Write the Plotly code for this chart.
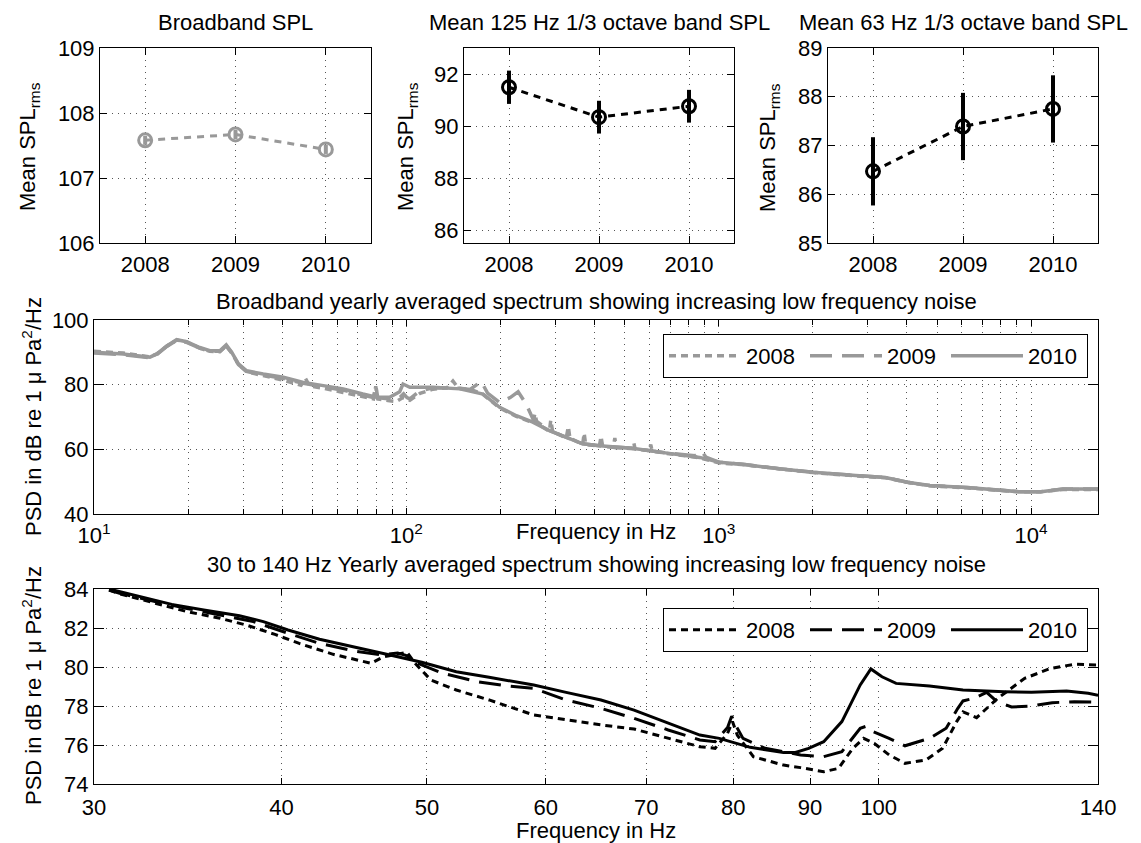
import plotly.graph_objects as go

W, H = 1141, 843
FONT = "Liberation Sans, Arial, Helvetica, sans-serif"
FS = 22
GRAY = "#999999"

# ---------------- data ----------------
years = [2008, 2009, 2010]
year_names = ["2008", "2009", "2010"]

broadband_spl = [107.58, 107.67, 107.44]
broadband_err = [0.07, 0.07, 0.07]
band125_spl = [91.49, 90.34, 90.76]
band125_err = [0.64, 0.63, 0.63]
band63_spl = [86.47, 87.39, 87.75]
band63_err = [0.70, 0.69, 0.69]

# Broadband yearly averaged spectrum (Hz, dB)
bb_f_2008 = [10, 12.4, 15.1, 15.9, 17.1, 18.4, 19.8, 21.8, 23.5, 25.3, 26.5, 27.6, 29.0, 30.8,
             34.8, 40.4, 46.0, 47.5, 49.0, 54.2, 62.8, 72.6, 78.5, 79.8, 81.0, 88.4, 93.0, 97.5,
             102.6, 110.6, 121.7, 135, 141, 147, 160, 176, 199, 225, 254, 258, 262, 287, 290, 294,
             325, 330, 334, 367, 371, 375, 415, 420, 425, 460, 465, 470, 529, 535, 540, 600, 606,
             612, 675, 869, 1006, 1211, 1591, 2006, 2748, 3418, 4020, 4742, 6234, 8197, 9142,
             10760, 12670, 16384]
bb_v_2008 = [90.3, 89.8, 88.6, 89.5, 91.9, 93.8, 93.2, 91.3, 90.3, 90.2, 92.0, 89.8, 86.2, 84.0,
             82.8, 81.4, 79.8, 82.0, 79.6, 78.9, 77.6, 76.4, 75.6, 79.5, 75.6, 75.0, 74.8, 76.0,
             75.2, 77.3, 78.6, 79.0, 81.1, 78.8, 78.6, 77.0, 72.8, 70.2, 68.2, 71.0, 68.0, 65.6,
             69.0, 65.5, 63.5, 67.0, 63.4, 61.6, 65.0, 61.5, 61.0, 64.0, 61.0, 60.6, 63.5, 60.5,
             60.2, 62.0, 60.1, 59.6, 61.5, 59.5, 58.8, 57.4, 55.8, 55.2, 53.8, 52.8, 51.8, 51.2,
             49.8, 48.7, 48.1, 47.3, 46.9, 46.9, 47.6, 47.6]

bb_f_2009 = [10, 12.4, 15.1, 15.9, 17.1, 18.4, 19.8, 21.8, 23.5, 25.3, 26.5, 27.6, 29.0, 30.8,
             34.8, 40.4, 46.8, 54.2, 62.8, 72.6, 78.5, 79.8, 81.0, 88.4, 95.2, 98.0, 100.5, 102.6,
             110.6, 121.7, 148.4, 160, 173.6, 182, 190, 199, 215, 228, 242, 254, 287, 325, 367,
             415, 529, 675, 840, 880, 910, 1006, 1211, 1591, 2006, 2748, 3418, 4020, 4742, 6234,
             8197, 9142, 10760, 12670, 16384]
bb_v_2009 = [89.8, 89.3, 88.3, 89.3, 91.8, 93.7, 93.1, 91.3, 90.3, 90.3, 92.0, 89.8, 86.2, 84.1,
             83.0, 81.9, 80.4, 79.3, 78.3, 76.8, 76.0, 79.8, 76.0, 75.6, 76.0, 77.2, 76.0, 75.6,
             78.1, 79.0, 78.9, 78.5, 81.0, 77.4, 76.0, 74.5, 76.0, 77.8, 74.0, 69.5, 65.8, 63.7,
             61.7, 61.1, 60.3, 58.9, 58.0, 59.5, 57.6, 56.0, 55.3, 53.9, 52.9, 51.9, 51.3, 49.8,
             48.8, 48.2, 47.4, 46.9, 46.9, 47.7, 47.7]

bb_f_2010 = [10, 12.4, 15.1, 15.9, 17.1, 18.4, 19.8, 21.8, 23.5, 25.3, 26.5, 27.6, 29.0, 30.8,
             34.8, 40.4, 46.8, 54.2, 62.8, 72.6, 80.3, 88.4, 95.2, 97.6, 102.6, 121.7, 148.4, 176,
             199, 225, 254, 287, 325, 367, 415, 529, 675, 869, 1006, 1211, 1591, 2006, 2748, 3418,
             4020, 4742, 6234, 8197, 9142, 10760, 12670, 16384]
bb_v_2010 = [90.0, 89.5, 88.5, 89.5, 92.0, 93.9, 93.3, 91.5, 90.5, 90.5, 92.3, 90.0, 86.4, 84.3,
             83.3, 82.3, 80.7, 79.7, 78.7, 77.1, 76.1, 76.1, 77.8, 80.2, 79.2, 79.2, 78.7, 77.1,
             73.0, 70.4, 68.4, 65.8, 63.7, 61.7, 61.1, 60.3, 58.9, 57.5, 56.0, 55.3, 53.9, 52.9,
             51.9, 51.3, 49.8, 48.8, 48.2, 47.4, 46.9, 46.9, 47.7, 47.7]

# 30 to 140 Hz yearly averaged spectrum (Hz, dB)
lf_f_2008 = [30.7, 31.2, 33.0, 34.6, 36.4, 37.9, 39.6, 41.1, 43.3, 45.9, 46.8, 48.5, 49.1, 50.3,
             52.3, 55.0, 58.9, 61.9, 65.3, 68.7, 72.4, 76.0, 77.8, 79.3, 79.9, 80.5, 82.5, 86.4,
             88.7, 91.9, 94.0, 96.1, 97.7, 99.3, 101.6, 104.1, 107.5, 110.3, 112.7, 113.8, 116.2,
             120.0, 125.1, 130.2, 135.0, 140.0]
lf_v_2008 = [83.95, 83.75, 83.26, 82.84, 82.5, 82.15, 81.67, 81.21, 80.65, 80.19, 80.53, 80.75,
             80.19, 79.33, 78.82, 78.31, 77.54, 77.28, 77.03, 76.82, 76.34, 75.91, 75.83, 76.6,
             77.2, 76.5, 75.4, 74.97, 74.84, 74.63, 74.8, 75.83, 76.34, 76.09, 75.49, 75.06, 75.23,
             75.83, 77.2, 77.7, 77.4, 78.39, 79.42, 79.93, 80.14, 80.1]

lf_f_2009 = [30.7, 31.2, 33.0, 34.6, 36.4, 38.3, 40.4, 42.4, 44.7, 46.6, 47.8, 48.4, 49.1, 51.2,
             54.0, 56.5, 58.9, 61.9, 65.3, 68.7, 72.4, 76.0, 77.8, 79.3, 79.8, 80.3, 81.2, 84.0,
             88.7, 91.9, 94.5, 97.2, 98.0, 99.0, 101.6, 104.1, 108.1, 110.9, 112.9, 113.8, 115.8,
             118.0, 119.8, 122.6, 126.2, 130.5, 135.0, 140.0]
lf_v_2009 = [83.95, 83.78, 83.35, 83.0, 82.67, 82.33, 81.73, 81.21, 80.82, 80.62, 80.72, 80.6,
             80.24, 79.68, 79.25, 79.03, 78.9, 78.31, 77.88, 77.37, 76.77, 76.26, 76.17, 76.9,
             77.48, 77.0, 76.34, 75.83, 75.49, 75.4, 75.66, 76.86, 76.95, 76.7, 76.34, 75.96,
             76.34, 76.86, 77.88, 78.26, 78.4, 78.7, 78.25, 77.95, 78.0, 78.17, 78.22, 78.2]

lf_f_2010 = [30.7, 32.2, 33.8, 35.5, 37.5, 38.9, 40.4, 42.4, 44.7, 47.0, 49.6, 52.3, 55.0, 58.9,
             61.9, 65.3, 68.7, 72.4, 76.0, 78.3, 82.1, 86.4, 88.0, 89.8, 91.9, 94.5, 97.2, 98.8,
             100.5, 102.7, 108.1, 113.8, 117.4, 121.2, 126.4, 133.4, 137.9, 140.0]
lf_v_2010 = [84.0, 83.6, 83.21, 82.92, 82.63, 82.33, 81.9, 81.42, 81.04, 80.65, 80.24, 79.76,
             79.47, 79.08, 78.7, 78.31, 77.79, 77.11, 76.51, 76.34, 75.88, 75.61, 75.62, 75.83,
             76.17, 77.2, 79.08, 79.9, 79.5, 79.16, 79.03, 78.82, 78.77, 78.73, 78.7, 78.77,
             78.65, 78.55]

# tick values
top_yticks = [[106, 107, 108, 109], [86, 88, 90, 92], [85, 86, 87, 88, 89]]
bb_major = [10, 100, 1000, 10000]
bb_major_text = ["10<sup>1</sup>", "10<sup>2</sup>", "10<sup>3</sup>", "10<sup>4</sup>"]
bb_minor = [20, 30, 40, 50, 60, 70, 80, 90,
            200, 300, 400, 500, 600, 700, 800, 900,
            2000, 3000, 4000, 5000, 6000, 7000, 8000, 9000]
bb_yticks = [40, 60, 80, 100]
lf_xticks = [30, 40, 50, 60, 70, 80, 90, 100, 140]
lf_yticks = [74, 76, 78, 80, 82, 84]

# ---------------- figure ----------------
def px_x(p):
    return p / W

def px_y(p):
    return 1 - p / H

fig = go.Figure()

dash_styles = ["7px,5px", "22px,10px", "solid"]

top_sets = [
    (broadband_spl, broadband_err, GRAY, "x", "y"),
    (band125_spl, band125_err, "black", "x2", "y2"),
    (band63_spl, band63_err, "black", "x3", "y3"),
]
for vals, errs, col, xa, ya in top_sets:
    fig.add_trace(go.Scatter(
        x=years, y=vals, xaxis=xa, yaxis=ya, mode="lines+markers",
        line=dict(color=col, width=3, dash="7px,6px"),
        marker=dict(symbol="circle-open", size=13, color=col, line=dict(width=3, color=col)),
        error_y=dict(type="data", array=errs, color=col, thickness=4, width=0),
        showlegend=False,
    ))

bb_sets = [(bb_f_2008, bb_v_2008), (bb_f_2009, bb_v_2009), (bb_f_2010, bb_v_2010)]
for (fx, vy), name, dsh in zip(bb_sets, year_names, dash_styles):
    fig.add_trace(go.Scatter(
        x=fx, y=vy, xaxis="x4", yaxis="y4", mode="lines", name=name,
        line=dict(color=GRAY, width=3.5, dash=dsh), legend="legend",
    ))

lf_sets = [(lf_f_2008, lf_v_2008), (lf_f_2009, lf_v_2009), (lf_f_2010, lf_v_2010)]
for (fx, vy), name, dsh in zip(lf_sets, year_names, dash_styles):
    fig.add_trace(go.Scatter(
        x=fx, y=vy, xaxis="x5", yaxis="y5", mode="lines", name=name,
        line=dict(color="black", width=3, dash=dsh), legend="legend2",
    ))

tickfont = dict(family=FONT, size=FS, color="black")
GRIDC = "#555555"
GRIDDASH = "1px,5px"

def axis_common(**kw):
    d = dict(showline=True, linecolor="black", linewidth=1, mirror="ticks", ticks="inside",
             tickcolor="black", tickfont=tickfont, zeroline=False, automargin=False,
             showgrid=True, gridcolor=GRIDC, griddash=GRIDDASH, gridwidth=1)
    d.update(kw)
    return d

top_x = [(100, 371), (464, 734), (828, 1098)]
top_y = (48, 243)

layout = dict(
    template="none",
    width=W, height=H, margin=dict(l=0, r=0, t=0, b=0, pad=0, autoexpand=False),
    autosize=False, paper_bgcolor="white", plot_bgcolor="white",
    font=dict(family=FONT, size=FS, color="black"),
)

top_ranges = [(106, 109), (85.5, 93), (85, 89)]
for i, ((x0, x1), (r0, r1), tv) in enumerate(zip(top_x, top_ranges, top_yticks)):
    sfx = "" if i == 0 else str(i + 1)
    layout["xaxis" + sfx] = axis_common(
        domain=[px_x(x0), px_x(x1)], range=[2007.5, 2010.5], tickvals=years,
        ticklen=7, anchor="y" + sfx, ticklabelstandoff=2)
    layout["yaxis" + sfx] = axis_common(
        domain=[px_y(top_y[1]), px_y(top_y[0])], range=[r0, r1], tickvals=tv,
        ticklen=7, anchor="x" + sfx)

layout["xaxis4"] = axis_common(
    domain=[px_x(94), px_x(1098)], type="log", range=[1, 4.2144],
    tickvals=bb_major, ticktext=bb_major_text, ticklen=6, anchor="y4",
    ticklabelstandoff=2,
    minor=dict(tickvals=bb_minor, ticks="inside", ticklen=5, tickcolor="black",
               showgrid=True, gridcolor=GRIDC, griddash=GRIDDASH, gridwidth=1))
layout["yaxis4"] = axis_common(
    domain=[px_y(514), px_y(320)], range=[40, 100], tickvals=bb_yticks,
    ticklen=10, anchor="x4")

layout["xaxis5"] = axis_common(
    domain=[px_x(94), px_x(1098)], type="log", range=[1.4771, 2.1461],
    tickvals=lf_xticks, ticktext=[str(v) for v in lf_xticks], ticklen=6, anchor="y5",
    ticklabelstandoff=4)
layout["yaxis5"] = axis_common(
    domain=[px_y(784), px_y(589)], range=[74, 84], tickvals=lf_yticks,
    ticklen=10, anchor="x5")

legend_common = dict(orientation="h", xanchor="right", yanchor="top", bgcolor="white",
                     bordercolor="black", borderwidth=1, font=dict(family=FONT, size=FS),
                     itemwidth=72, entrywidth=54, tracegroupgap=0)
layout["legend"] = dict(x=px_x(1088), y=px_y(334), **legend_common)
layout["legend2"] = dict(x=px_x(1088), y=px_y(608), **legend_common)

fig.update_layout(**layout)

def ann(text, x, y, angle=0, size=FS):
    fig.add_annotation(text=text, xref="paper", yref="paper", x=px_x(x), y=px_y(y),
                       xanchor="center", yanchor="middle", showarrow=False, textangle=angle,
                       font=dict(family=FONT, size=size, color="black"))

ann("Broadband SPL", 236, 22)
ann("Mean 125 Hz 1/3 octave band SPL", 599, 22)
ann("Mean 63 Hz 1/3 octave band SPL", 963, 22)
ann("Mean SPL<sub>rms</sub>", 29, 147, -90)
ann("Mean SPL<sub>rms</sub>", 407, 147, -90)
ann("Mean SPL<sub>rms</sub>", 769, 147, -90)
ann("Broadband yearly averaged spectrum showing increasing low frequency noise", 596, 302)
ann("Frequency in Hz", 596, 531)
ann("PSD in dB re 1 \u03bc Pa<sup>2</sup>/Hz", 32, 417, -90)
ann("30 to 140 Hz Yearly averaged spectrum showing increasing low frequency noise", 596, 564)
ann("Frequency in Hz", 596, 830)
ann("PSD in dB re 1 \u03bc Pa<sup>2</sup>/Hz", 32, 686, -90)

fig.write_html("out.html")
